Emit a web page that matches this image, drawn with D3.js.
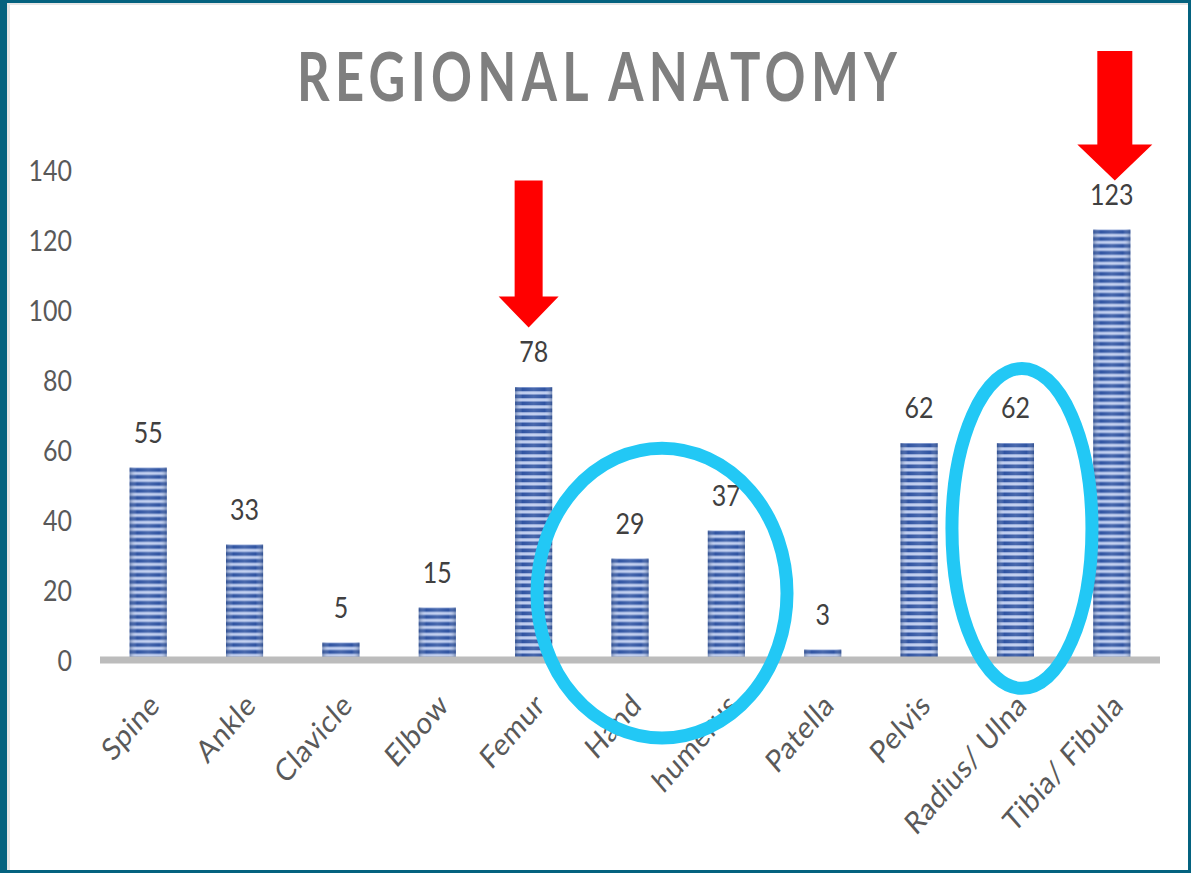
<!DOCTYPE html>
<html>
<head>
<meta charset="utf-8">
<script src="https://cdn.jsdelivr.net/npm/d3@7"></script>
<style>
  html, body { margin: 0; padding: 0; background: #ffffff; }
  svg { display: block; }
</style>
</head>
<body>
<svg id="chart" width="1191" height="873"></svg>
<script>
// Fracture counts by region
const categories = ["Spine", "Ankle", "Clavicle", "Elbow", "Femur", "Hand", "humerus", "Patella", "Pelvis", "Radius/ Ulna", "Tibia/ Fibula"];
const counts = [55, 33, 5, 15, 78, 29, 37, 3, 62, 62, 123];
const yTicks = [0, 20, 40, 60, 80, 100, 120, 140];
const chartTitle = "REGIONAL ANATOMY";

// Callouts: red arrows pointing at the largest groups, cyan rings around grouped bars
const arrowNotes = [
  { category: "Femur", top: 137, tip: 95, dx: -5, shaft: 28, head: 60, headLen: 31 },
  { category: "Tibia/ Fibula", top: 174, tip: 137, dx: 3, shaft: 35, head: 75, headLen: 36 }
];
const ringNotes = [
  { category: "Hand", dx: 32, cy: 19.1, rx: 125, ry: 41.4 },
  { category: "Radius/ Ulna", dx: 6.5, cy: 37.6, rx: 70, ry: 45.7 }
];

const W = 1191, H = 873;
const FONT = "Lato, 'Open Sans', sans-serif";
const TALL = 1.15; // text is drawn slightly taller than wide
const svg = d3.select("#chart");

// Frame
svg.append("rect").attr("x", 0).attr("y", 0).attr("width", W).attr("height", H).attr("fill", "#04627f");
svg.append("rect").attr("x", 7).attr("y", 3).attr("width", 1181).attr("height", 867).attr("fill", "#e6e6e6");
svg.append("rect").attr("x", 10).attr("y", 5).attr("width", 1178).attr("height", 865).attr("fill", "#ffffff");

const x = d3.scaleBand().domain(categories).range([100, 1160]).paddingInner(0.615).paddingOuter(0.3075);
const y = d3.scaleLinear().domain([0, 140]).range([660, 170]);

const data = categories.map((c, i) => ({ c, v: counts[i], id: "stripes" + i }));

// Striped bar fill, one pattern per bar so stripes start at each bar's top
const defs = svg.append("defs");
data.forEach(d => {
  const pat = defs.append("pattern")
    .attr("id", d.id).attr("patternUnits", "userSpaceOnUse")
    .attr("x", 0).attr("y", y(d.v)).attr("width", 20).attr("height", 7);
  pat.append("rect").attr("width", 20).attr("height", 7).attr("fill", "#bccbee");
  pat.append("rect").attr("y", 0.5).attr("width", 20).attr("height", 3.8).attr("fill", "#3054a2");
});

const shade = defs.append("linearGradient").attr("id", "shade").attr("x1", 0).attr("x2", 1).attr("y1", 0).attr("y2", 0);
[[0, "#2f4a7e", 0.5], [0.2, "#ffffff", 0.0], [0.5, "#ffffff", 0.12], [0.8, "#ffffff", 0.0], [1, "#2f4a7e", 0.5]]
  .forEach(([o, c, a]) => shade.append("stop").attr("offset", o).attr("stop-color", c).attr("stop-opacity", a));

// Title: narrow, tall, letter-spaced
const titleSX = 0.86, titleSY = 1.12;
svg.append("text")
  .attr("transform", `translate(597,101) scale(${titleSX},${titleSY})`)
  .attr("text-anchor", "middle")
  .attr("font-family", FONT)
  .attr("font-weight", 700)
  .attr("font-size", 59)
  .attr("fill", "#7f7f7f")
  .attr("textLength", 600 / titleSX).attr("lengthAdjust", "spacing")
  .text(chartTitle);

// Y axis labels (no axis line)
const yAxis = d3.axisLeft(y).tickValues(yTicks).tickSize(0).tickPadding(0);
const gy = svg.append("g").attr("transform", "translate(72,0)").call(yAxis);
gy.select(".domain").remove();
gy.selectAll(".tick text")
  .attr("x", null).attr("dy", null)
  .attr("transform", `translate(0,${0.36 * 25 * TALL}) scale(1,${TALL})`)
  .attr("text-anchor", "end")
  .attr("font-family", FONT)
  .attr("font-size", 25)
  .attr("fill", "#595959");

// Bars
const bars = svg.append("g");
bars.selectAll("rect.bar").data(data).join("rect")
  .attr("class", "bar")
  .attr("x", d => x(d.c)).attr("width", x.bandwidth())
  .attr("y", d => y(d.v)).attr("height", d => y(0) - y(d.v))
  .attr("fill", d => `url(#${d.id})`);
bars.selectAll("rect.shade").data(data).join("rect")
  .attr("class", "shade")
  .attr("x", d => x(d.c)).attr("width", x.bandwidth())
  .attr("y", d => y(d.v)).attr("height", d => y(0) - y(d.v))
  .attr("fill", "url(#shade)");

// Baseline
svg.append("line")
  .attr("x1", 100).attr("x2", 1160).attr("y1", y(0)).attr("y2", y(0))
  .attr("stroke", "#bcbcbc").attr("stroke-width", 7);

// Value labels
svg.append("g").selectAll("text").data(data).join("text")
  .attr("transform", d => `translate(${x(d.c) + x.bandwidth() / 2},${y(d.v) - 25}) scale(1,${TALL})`)
  .attr("text-anchor", "middle")
  .attr("font-family", FONT)
  .attr("font-size", 25)
  .attr("fill", "#404040")
  .text(d => d.v);

// Category labels, rotated
svg.append("g").selectAll("text").data(categories).join("text")
  .attr("transform", c => `translate(${x(c) + x.bandwidth() / 2 + 13},${707}) scale(1,${TALL}) rotate(-45)`)
  .attr("text-anchor", "end")
  .attr("font-family", FONT)
  .attr("font-size", 27)
  .attr("letter-spacing", 0.6)
  .attr("fill", "#595959")
  .text(c => c);

// Red arrows
svg.append("g").selectAll("path").data(arrowNotes).join("path")
  .attr("d", a => {
    const cx = x(a.category) + x.bandwidth() / 2 + a.dx;
    const yTop = y(a.top), yTip = y(a.tip), yHead = yTip - a.headLen;
    return `M${cx - a.shaft / 2},${yTop} L${cx + a.shaft / 2},${yTop} L${cx + a.shaft / 2},${yHead} ` +
      `L${cx + a.head / 2},${yHead} L${cx},${yTip} L${cx - a.head / 2},${yHead} L${cx - a.shaft / 2},${yHead} Z`;
  })
  .attr("fill", "#ff0000");

// Cyan rings
svg.append("g").selectAll("ellipse").data(ringNotes).join("ellipse")
  .attr("cx", r => x(r.category) + x.bandwidth() / 2 + r.dx)
  .attr("cy", r => y(r.cy))
  .attr("rx", r => r.rx)
  .attr("ry", r => y(0) - y(r.ry))
  .attr("fill", "none")
  .attr("stroke", "#22c8f5")
  .attr("stroke-width", 13);
</script>
</body>
</html>
